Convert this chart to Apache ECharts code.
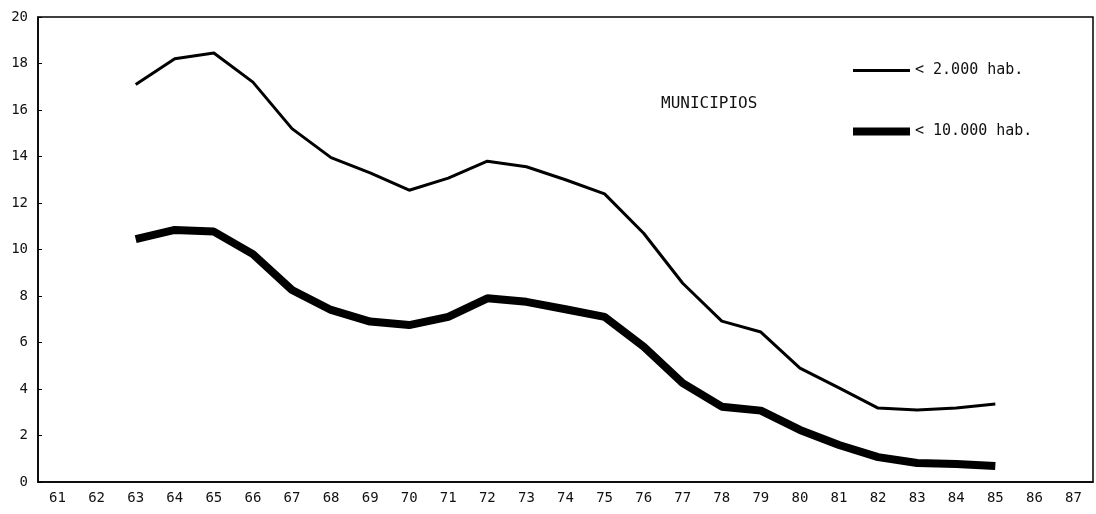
<!DOCTYPE html>
<html>
<head>
<meta charset="utf-8">
<script src="https://cdn.jsdelivr.net/npm/echarts@6/dist/echarts.min.js"></script>
<style>
html,body{margin:0;padding:0;background:#fff;}
#chart{width:1096px;height:514px;}
</style>
</head>
<body>
<div id="chart"></div>
<script>
const years = ['61','62','63','64','65','66','67','68','69','70','71','72','73','74','75','76','77','78','79','80','81','82','83','84','85','86','87'];
const menos2000 = [null,null,17.1,18.2,18.45,17.2,15.2,13.95,13.3,12.55,13.07,13.8,13.56,13.0,12.39,10.7,8.55,6.92,6.45,4.9,4.05,3.18,3.1,3.18,3.35,null,null];
const menos10000 = [null,null,10.45,10.84,10.77,9.8,8.26,7.4,6.9,6.75,7.1,7.9,7.75,7.43,7.1,5.82,4.25,3.24,3.07,2.24,1.59,1.07,0.82,0.77,0.69,null,null];
const seriesNames = ['< 2.000 hab.', '< 10.000 hab.'];
const titleText = 'MUNICIPIOS';

const chart = echarts.init(document.getElementById('chart'));
const font = 'DejaVu Sans Mono';
chart.setOption({
  backgroundColor: '#fff',
  animation: false,
  title: {
    text: titleText,
    left: 656, top: 91,
    textStyle: {fontFamily: font, fontSize: 16, fontWeight: 'normal', color: '#111'}
  },
  legend: [
    {
      data: [seriesNames[0]],
      left: 848, top: 58,
      icon: 'rect', itemWidth: 57, itemHeight: 3, itemGap: 8,
      textStyle: {fontFamily: font, fontSize: 15, color: '#111'}
    },
    {
      data: [seriesNames[1]],
      left: 848, top: 119,
      icon: 'rect', itemWidth: 57, itemHeight: 8, itemGap: 8,
      textStyle: {fontFamily: font, fontSize: 15, color: '#111'}
    }
  ],
  grid: {
    left: 38, right: 3, top: 17, bottom: 32,
    show: true, borderColor: '#000', borderWidth: 1.5, backgroundColor: 'transparent'
  },
  xAxis: {
    type: 'category',
    data: years,
    boundaryGap: true,
    axisLine: {lineStyle: {color: '#000', width: 1.5}},
    axisTick: {inside: true, length: 6, lineStyle: {color: '#000', width: 1.2}},
    axisLabel: {fontFamily: font, fontSize: 14, color: '#111', margin: 9},
    splitLine: {show: false}
  },
  yAxis: {
    type: 'value',
    min: 0, max: 20, interval: 2,
    axisLine: {show: true, lineStyle: {color: '#000', width: 1.5}},
    axisTick: {show: true, inside: true, length: 4, lineStyle: {color: '#000'}},
    axisLabel: {fontFamily: font, fontSize: 14, color: '#111', margin: 10},
    splitLine: {show: false}
  },
  series: [
    {
      name: seriesNames[0], type: 'line', data: menos2000,
      showSymbol: false, symbol: 'none',
      lineStyle: {color: '#000', width: 3},
      itemStyle: {color: '#000'}
    },
    {
      name: seriesNames[1], type: 'line', data: menos10000,
      showSymbol: false, symbol: 'none',
      lineStyle: {color: '#000', width: 8},
      itemStyle: {color: '#000'}
    }
  ]
});
</script>
</body>
</html>
